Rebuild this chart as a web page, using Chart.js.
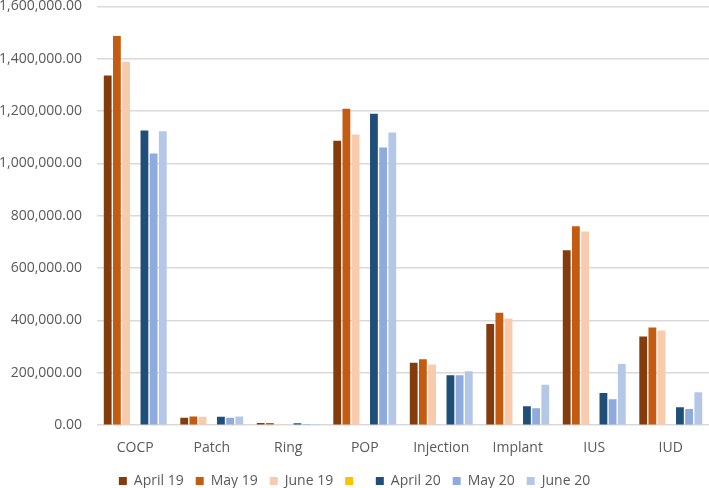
<!DOCTYPE html>
<html>
<head>
<meta charset="utf-8">
<script src="https://cdn.jsdelivr.net/npm/chart.js@4"></script>
<style>
  html, body { margin: 0; padding: 0; background: #fff; overflow: hidden; }
  body { position: relative; width: 709px; height: 488px; }
  #wrap { position: absolute; left: 0; top: -17px; width: 709px; height: 515px; }
</style>
</head>
<body>
<div id="wrap"><canvas id="grafica"></canvas></div>
<script>
const etiquetas = ['COCP', 'Patch', 'Ring', 'POP', 'Injection', 'Implant', 'IUS', 'IUD'];

const abril19 = [1336000, 28000, 8000, 1087000, 239000, 387000, 668000, 339000];
const mayo19  = [1487000, 33000, 8000, 1209000, 252000, 430000, 760000, 373000];
const junio19 = [1389000, 32000, 5000, 1111000, 232000, 408000, 740000, 362000];
const vacio   = [null, null, null, null, null, null, null, null];
const abril20 = [1126000, 32000, 7000, 1190000, 191000, 72000, 123000, 69000];
const mayo20  = [1038000, 28000, 5000, 1061000, 191000, 65000, 99000, 62000];
const junio20 = [1123000, 33000, 5000, 1118000, 206000, 155000, 234000, 126000];

const serie = (label, data, color) => ({
    label: label,
    data: data,
    backgroundColor: color,
    borderWidth: 0,
    categoryPercentage: 0.84,
    barPercentage: 0.85
});

new Chart(document.querySelector('#grafica'), {
    type: 'bar',
    data: {
        labels: etiquetas,
        datasets: [
            serie('April 19', abril19, '#843C0C'),
            serie('May 19', mayo19, '#C55A11'),
            serie('June 19', junio19, '#F8CBAD'),
            serie(' ', vacio, '#FFC000'),
            serie('April 20', abril20, '#1F4E79'),
            serie('May 20', mayo20, '#8FAADC'),
            serie('June 20', junio20, '#B4C7E7')
        ]
    },
    options: {
        responsive: true,
        maintainAspectRatio: false,
        animation: false,
        layout: { padding: 0 },
        plugins: {
            legend: {
                position: 'bottom',
                labels: {
                    boxWidth: 8,
                    boxHeight: 8,
                    padding: 12,
                    color: '#595959',
                    font: { family: 'Open Sans', size: 14 }
                }
            },
            tooltip: { enabled: false }
        },
        scales: {
            x: {
                grid: { display: false },
                border: { display: false },
                ticks: { color: '#595959', font: { family: 'Open Sans', size: 14 }, padding: 6 }
            },
            y: {
                min: 0,
                max: 1600000,
                border: { display: false },
                grid: { color: '#d9d9d9', lineWidth: 1.5, drawTicks: false },
                afterFit: s => { s.width = 97; },
                ticks: {
                    stepSize: 200000,
                    padding: 15,
                    color: '#595959',
                    font: { family: 'Open Sans', size: 14 },
                    callback: v => v.toLocaleString('en-US', { minimumFractionDigits: 2, maximumFractionDigits: 2 })
                }
            }
        }
    }
});
</script>
</body>
</html>
